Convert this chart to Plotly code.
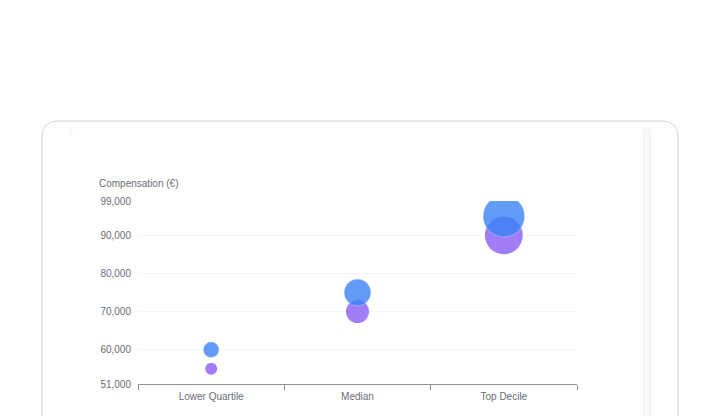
import plotly.graph_objects as go

# data
categories = ['Lower Quartile', 'Median', 'Top Decile']
purple_values = [55000, 70000, 90000]
blue_values = [60000, 75000, 95000]
y_ticks = [51000, 60000, 70000, 80000, 90000, 99000]

W, H = 720, 416
OFF = 8  # the page body margin shifts the figure by 8px
L, R, T, B = 138 - OFF, 577 - OFF, 201 - OFF, 384 - OFF   # plot area in figure pixels


def px(x):
    return (x - OFF - L) / (R - L)


def py(y):
    return (B - (y - OFF)) / (B - T)


def bubble(v):
    # bubble diameter grows with the value
    return 9 + (v - 51000) * 0.00074


def card_path(x0, x1, y0, y1, r):
    return (f'M {px(x0)},{py(y1)} L {px(x0)},{py(y0 + r)} '
            f'Q {px(x0)},{py(y0)} {px(x0 + r)},{py(y0)} '
            f'L {px(x1 - r)},{py(y0)} Q {px(x1)},{py(y0)} {px(x1)},{py(y0 + r)} '
            f'L {px(x1)},{py(y1)}')


fig = go.Figure()

fig.add_trace(go.Scatter(
    x=categories, y=purple_values, mode='markers', name='Purple',
    marker=dict(size=[bubble(v) for v in purple_values], color='rgba(139,92,246,0.8)',
                opacity=1, line=dict(width=0)),
    showlegend=False,
))
fig.add_trace(go.Scatter(
    x=categories, y=blue_values, mode='markers', name='Blue',
    marker=dict(size=[bubble(v) for v in blue_values], color='rgba(59,130,246,0.8)',
                opacity=1, line=dict(width=1, color='rgba(255,255,255,0.3)')),
    showlegend=False,
))

shapes = [
    # outer card
    dict(type='path', xref='paper', yref='paper', path=card_path(42, 678, 121, 440, 16),
         line=dict(color='#d4d4d4', width=1), layer='below'),
    # inner right strip
    dict(type='rect', xref='paper', yref='paper',
         x0=px(644), x1=px(650), y0=py(440), y1=py(129),
         fillcolor='#f8f9fb', line=dict(color='#eceef2', width=1), layer='below'),
    # faint inner corner top-left
    dict(type='path', xref='paper', yref='paper',
         path=f'M {px(70)},{py(136)} Q {px(70)},{py(129)} {px(74)},{py(128)}',
         line=dict(color='#ededed', width=1), layer='below'),
]

fig.update_layout(
    width=W, height=H,
    margin=dict(l=L, r=W - R, t=T, b=H - B),
    paper_bgcolor='white', plot_bgcolor='white',
    font=dict(family='Liberation Sans, Arial, sans-serif', size=10, color='#6b6d74'),
    shapes=shapes,
    annotations=[dict(
        text='Compensation (€)', xref='paper', yref='paper',
        x=px(97), y=py(183.5), xanchor='left', yanchor='middle', showarrow=False,
        font=dict(size=10, color='#6b6d74'),
    )],
)

fig.update_xaxes(
    type='category', range=[-0.5, 2.5], tickson='boundaries',
    ticks='outside', ticklen=5, tickcolor='#8e929c',
    showline=True, linecolor='#8e929c', linewidth=1,
    showgrid=False, zeroline=False, fixedrange=True, ticklabelstandoff=3,
)
fig.update_yaxes(
    range=[51000, 99000], tickvals=y_ticks, tickformat=',d',
    showgrid=True, gridcolor='#f3f4f6', gridwidth=1,
    showline=False, zeroline=False, ticks='', ticklabelstandoff=6,
    fixedrange=True,
)

fig.write_html('out.html')
